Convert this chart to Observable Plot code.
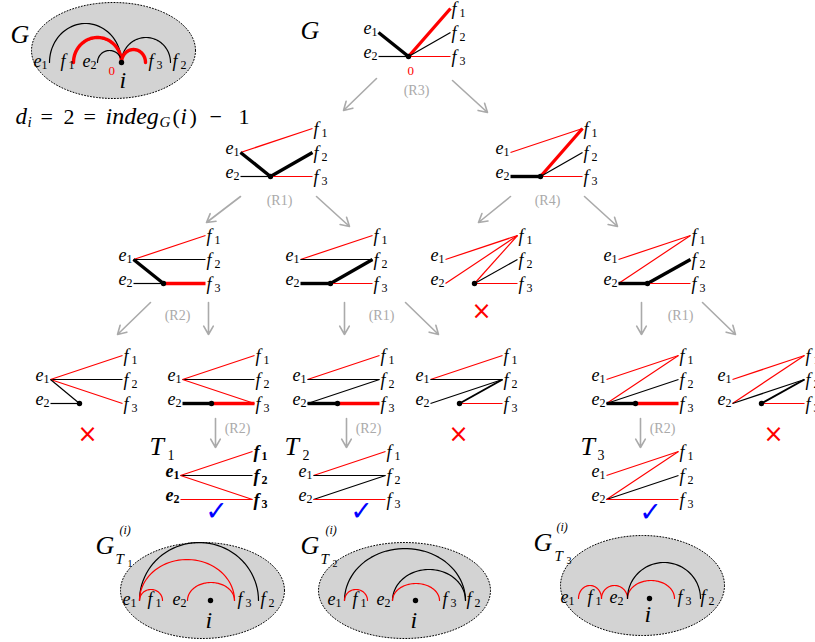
<!DOCTYPE html>
<html><head><meta charset="utf-8">
<script src="https://cdn.jsdelivr.net/npm/d3@7"></script>
<script src="https://cdn.jsdelivr.net/npm/@observablehq/plot@0.6"></script>
<style>body{margin:0;background:#fff}</style>
</head><body><div id="chart"></div>
<script>
// ---------------- DATA ----------------
// small bipartite pictures: left column x, bottom row y, offset of vertex i
const nodeX   = [378,240,510,133,300,445,618, 50,182,307,430,606,732,180,313,606];
const nodeY   = [ 56,176,176,283,283,283,283,403,403,403,403,403,403,499,499,499];
const nodeDot = [ 30, 30, 30, 30, 30, 29, 29, 29, 29, 30, 29, 29, 29,null,null,null];
const nodeBold= [  0,  0,  0,  0,  0,  0,  0,  0,  0,  0,  0,  0,  0,  1,  0,  0];
const nodeEdges = [
  "e1-v:k3 e2-v:k1 v-f1:r3 v-f2:k1 v-f3:r1",
  "e1-f1:r1 e1-v:k3 e2-v:k1 v-f2:k3 v-f3:r1",
  "e1-f1:r1 e2-v:k3 v-f1:r3 v-f2:k1 v-f3:r1",
  "e1-f1:r1 e1-f2:k1 e1-v:k3 e2-v:k1 v-f3:r3",
  "e1-f1:r1 e1-f2:k1 e2-v:k3 v-f2:k3 v-f3:r1",
  "e1-f1:r1 e2-f1:r1 v-f1:r1 v-f2:k1 v-f3:r1",
  "e1-f1:r1 e2-f1:r1 e2-v:k3 v-f2:k3 v-f3:r1",
  "e1-f1:r1 e1-f2:k1 e1-f3:r1 e1-v:k1 e2-v:k1",
  "e1-f1:r1 e1-f2:k1 e1-f3:r1 e2-v:k3 v-f3:r3",
  "e1-f1:r1 e1-f2:k1 e2-f2:k1 e2-v:k3 v-f3:r3",
  "e1-f1:r1 e1-f2:k1 e2-f2:k1 v-f2:k2 v-f3:r1",
  "e1-f1:r1 e2-f1:r1 e2-f2:k1 e2-v:k3 v-f3:r3",
  "e1-f1:r1 e2-f1:r1 e2-f2:k1 v-f2:k2 v-f3:r1",
  "e1-f1:r1 e1-f2:k1 e1-f3:r1 e2-f3:r1",
  "e1-f1:r1 e1-f2:k1 e2-f2:k1 e2-f3:r1",
  "e1-f1:r1 e2-f1:r1 e2-f2:k1 e2-f3:r1"
];

// rule arrows
const arrowX1 = [376,452,240,316,510,584,150,208,344,405,641,702,215,346,640];
const arrowY1 = [ 78, 80,196,196,196,196,302,302,302,302,302,302,418,418,418];
const arrowX2 = [343,487,206,349,478,617,117,208,344,438,641,735,215,346,640];
const arrowY2 = [110,112,222,226,222,226,334,334,334,334,334,334,447,447,447];
const ruleText = ["(R3)","(R1)","(R4)","(R2)","(R1)","(R1)","(R2)","(R2)","(R2)"];
const ruleX = [416,279,547,177,381,680,237,368,662];
const ruleY = [ 90,200,200,315,315,315,428,428,428];

const crossX = [481, 87, 458, 773];
const crossY = [311,434, 434, 434];
const checkX = [216, 361, 650];
const checkY = [511, 511, 512];

// grey ellipses (G and G_T^(i))
const ellCx = [113,202,404,642];
const ellCy = [ 50,590,590,585];
const ellRx = [ 82, 82, 86, 82];
const ellRy = [ 48, 48, 48, 50];
const ellBase = [62,600,600,598];
const ellDotX = [121,210,415,649];
const ellNames = ["e1","f1","e2","f3","f2"];
const ellNameX = [[33,60,82,148,172],[122,147,172,237,260],[327,352,376,442,466],[560,587,609,677,700]];

// arcs inside ellipses
const arcEll   = [0,0,0,0,0, 1,1,1,1, 2,2,2,2, 3,3,3,3];
const arcX1    = [49,73,97,121,121, 139,139,139,187, 344,392,344,392, 578,601,627,627];
const arcX2    = [121,121,121,170,145, 258,234,162,234, 465,465,367,439, 601,627,674,700];
const arcH     = [39,25,12,25,13, 58,41,11,18, 52,31,11,17, 13,13,18,36];
const arcColor = ["k","r","k","k","r", "k","r","r","r", "k","k","r","r", "r","r","r","k"];
const arcThick = [0,1,0,0,1, 0,0,0,0, 0,0,0,0, 0,0,0,0];

// free text pieces
const pieceText = ["G","G","T","1","T","2","T","3",
  "G","(i)","T","1", "G","(i)","T","2", "G","(i)","T","3",
  "i","i","i","i","0","0",
  "d","i","=","2","=","indeg","G","(","i",")","−","1"];
const pieceX = [10,300,149,167,284,302,580,597,
  95,119,115,127, 300,325,320,332, 533,556,554,566,
  119,205,410,644,108,407,
  15,27,40,63,83,105,159,172,180,189,209,238];
const pieceY = [34,30,446,455,446,455,446,455,
  545,530,559,563, 545,530,559,563, 542,527,556,560,
  80,620,620,614,70,70,
  116,122,116,116,116,116,122,116,116,116,116,116];
const pieceSize = [26,26,26,14,26,14,26,14,
  26,12,15,10, 26,12,15,10, 26,12,15,10,
  24,24,24,24,13,13,
  23,15,22,22,22,24,15,22,23,22,22,22];
const pieceItalic = [1,1,1,0,1,0,1,0,
  1,1,1,0, 1,1,1,0, 1,1,1,0,
  1,1,1,1,0,0,
  1,1,0,0,0,1,1,0,1,0,0,0];
const pieceRed = [0,0,0,0,0,0,0,0, 0,0,0,0, 0,0,0,0, 0,0,0,0, 0,0,0,0,1,1, 0,0,0,0,0,0,0,0,0,0,0,0];

// ---------------- BUILD ----------------
function pt(i, p) {
  const x0 = nodeX[i], y0 = nodeY[i];
  switch (p) {
    case "e1": return [x0, y0 - 24];
    case "e2": return [x0, y0];
    case "v":  return [x0 + nodeDot[i], y0];
    case "f1": return [x0 + 72, y0 - 48];
    case "f2": return [x0 + 72, y0 - 24];
    case "f3": return [x0 + 72, y0];
  }
}
const widths = [0, 1.2, 2, 3.4];
const edges = [];
nodeEdges.forEach((s, i) => s.split(" ").forEach(tok => {
  const [ends, st] = tok.split(":");
  const [a, b] = ends.split("-");
  const [x1, y1] = pt(i, a), [x2, y2] = pt(i, b);
  edges.push({x1, y1, x2, y2, color: st[0] === "r" ? "#ff0000" : "#000000", w: widths[+st[1]]});
}));
const dots = [];
nodeDot.forEach((d, i) => { if (d != null) { const [x, y] = pt(i, "v"); dots.push({x, y}); } });
ellDotX.forEach((x, k) => dots.push({x, y: ellBase[k]}));

const letters = [], subs = [];
nodeX.forEach((_, i) => {
  ["e1","e2","f1","f2","f3"].forEach(p => {
    const [x, y] = pt(i, p);
    const isE = p[0] === "e";
    letters.push({t: p[0], x: isE ? x - 15 : x + 1, y: isE ? y - 4 : y + 1, b: nodeBold[i]});
    subs.push({t: p[1], x: isE ? x - 7 : x + 9, y: isE ? y : y + 5, b: nodeBold[i]});
  });
});
ellNameX.forEach((xs, k) => xs.forEach((x, j) => {
  const n = ellNames[j];
  letters.push({t: n[0], x, y: ellBase[k] - 1, b: 0});
  subs.push({t: n[1], x: x + 8, y: ellBase[k] + 3, b: 0});
}));

const ellPts = [];
ellCx.forEach((cx, k) => {
  for (let a = 0; a < 360; a += 3) {
    const t = a * Math.PI / 180;
    ellPts.push({id: k, x: cx + ellRx[k] * Math.cos(t), y: ellCy[k] + ellRy[k] * Math.sin(t)});
  }
});
const arcPts = [];
arcEll.forEach((k, j) => {
  const c = (arcX1[j] + arcX2[j]) / 2, r = (arcX2[j] - arcX1[j]) / 2;
  for (let a = 0; a <= 180; a += 4) {
    const t = a * Math.PI / 180;
    arcPts.push({id: j, x: c - r * Math.cos(t), y: ellBase[k] - arcH[j] * Math.sin(t),
      color: arcColor[j] === "r" ? "#ff0000" : "#000000", w: arcThick[j] ? 3.4 : 1.2});
  }
});
const arrows = arrowX1.map((x1, i) => ({x1, y1: arrowY1[i], x2: arrowX2[i], y2: arrowY2[i]}));
const rules = ruleText.map((t, i) => ({t, x: ruleX[i], y: ruleY[i]}));
const crosses = crossX.map((x, i) => ({x, y: crossY[i]}));
const checks = checkX.map((x, i) => ({x, y: checkY[i]}));
const pieces = pieceText.map((t, i) => ({t, x: pieceX[i], y: pieceY[i], s: pieceSize[i], it: pieceItalic[i], c: pieceRed[i] ? "#ff0000" : "#000000"}));

const serif = "Liberation Serif, DejaVu Serif, serif";
const chart = Plot.plot({
  width: 815, height: 642, margin: 0,
  x: {domain: [0, 815], axis: null},
  y: {domain: [0, 642], reverse: true, axis: null},
  color: {type: "identity"},
  marks: [
    Plot.line(ellPts, {x: "x", y: "y", z: "id", fill: "#d3d3d3", stroke: "#000", strokeWidth: 1, strokeDasharray: "1,2", curve: "linear-closed"}),
    Plot.line(arcPts, {x: "x", y: "y", z: "id", stroke: "color", strokeWidth: "w"}),
    Plot.link(edges, {x1: "x1", y1: "y1", x2: "x2", y2: "y2", stroke: "color", strokeWidth: "w", strokeLinecap: "butt"}),
    Plot.dot(dots, {x: "x", y: "y", r: 2.7, fill: "#000"}),
    Plot.arrow(arrows, {x1: "x1", y1: "y1", x2: "x2", y2: "y2", stroke: "#aaaaaa", strokeWidth: 1.6, headLength: 9}),
    Plot.text(rules, {x: "x", y: "y", text: "t", fill: "#aaaaaa", fontSize: 14, fontFamily: serif}),
    Plot.text(letters.filter(d => !d.b), {x: "x", y: "y", text: "t", textAnchor: "start", fontSize: 18, fontStyle: "italic", fontFamily: serif}),
    Plot.text(subs.filter(d => !d.b), {x: "x", y: "y", text: "t", textAnchor: "start", fontSize: 12, fontFamily: serif}),
    Plot.text(letters.filter(d => d.b), {x: "x", y: "y", text: "t", textAnchor: "start", fontSize: 18, fontStyle: "italic", fontWeight: "bold", fontFamily: serif}),
    Plot.text(subs.filter(d => d.b), {x: "x", y: "y", text: "t", textAnchor: "start", fontSize: 12, fontWeight: "bold", fontFamily: serif}),
    Plot.text(pieces.filter(d => d.it), {x: "x", y: "y", text: "t", textAnchor: "start", fontSize: "s", fill: "c", fontStyle: "italic", fontFamily: serif}),
    Plot.text(pieces.filter(d => !d.it), {x: "x", y: "y", text: "t", textAnchor: "start", fontSize: "s", fill: "c", fontFamily: serif}),
    Plot.text(crosses, {x: "x", y: "y", text: () => "×", fill: "#ff0000", fontSize: 24, fontFamily: "DejaVu Sans"}),
    Plot.text(checks, {x: "x", y: "y", text: () => "✓", fill: "#0000ff", fontSize: 27, fontWeight: "bold", fontFamily: "DejaVu Sans"})
  ]
});
document.getElementById("chart").appendChild(chart);
</script>
</body></html>
